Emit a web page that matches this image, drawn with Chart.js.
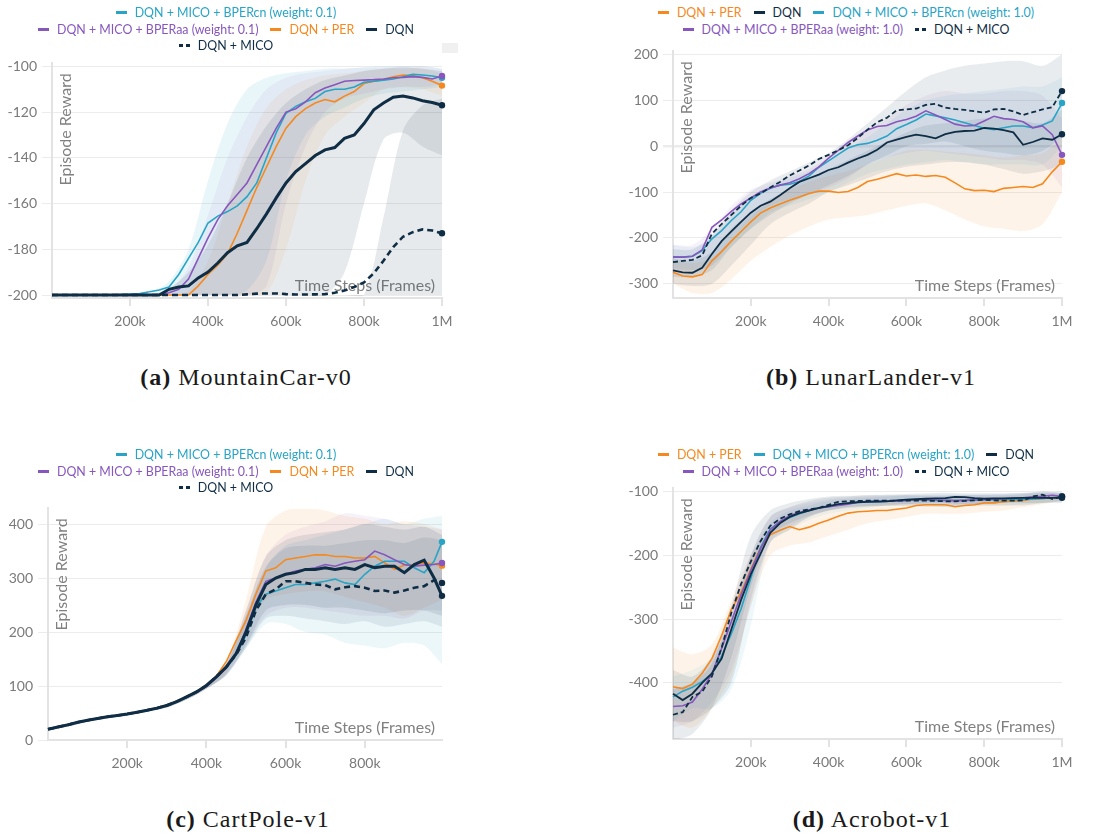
<!DOCTYPE html>
<html>
<head>
<meta charset="utf-8">
<script src="https://cdn.jsdelivr.net/npm/chart.js@4.4.1/dist/chart.umd.min.js"></script>
<style>
  body { margin: 0; background: #fff; }
  #page { position: relative; width: 1104px; height: 835px; overflow: hidden; background: #fff; }
  canvas { position: absolute; }
  .legend { position: absolute; width: 600px; text-align: center; font-family: Lato, sans-serif; font-size: 12.4px; }
  .legend .row { height: 16.5px; line-height: 16.5px; white-space: nowrap; }
  .legend .item { display: inline-block; margin: 0 6px; }
  .legend .item i { display: inline-block; width: 11px; height: 3px; vertical-align: middle; margin-right: 8px; position: relative; top: -1px; }
  .caption { position: absolute; width: 400px; text-align: center; font-family: "Liberation Serif", serif; font-size: 24px; color: #1a1a1a; letter-spacing: 1px; }
  .caption b { font-weight: bold; }
  #wbBox { position: absolute; left: 442px; top: 43px; width: 16px; height: 10px; background: #f0f0f0; }
</style>
</head>
<body>
<div id="page">
  <canvas id="mcChart"></canvas>
  <canvas id="llChart"></canvas>
  <canvas id="cpChart"></canvas>
  <canvas id="abChart"></canvas>
  <div id="wbBox"></div>

  <div class="legend" style="left:-74px; top:5px;">
    <div class="row"><span class="item" style="color:#27a4c6"><i style="background:#27a4c6"></i>DQN + MICO + BPERcn (weight: 0.1)</span></div>
    <div class="row"><span class="item" style="color:#8757bd"><i style="background:#8757bd"></i>DQN + MICO + BPERaa (weight: 0.1)</span><span class="item" style="color:#f5891f"><i style="background:#f5891f"></i>DQN + PER</span><span class="item" style="color:#0f2d44"><i style="background:#0f2d44"></i>DQN</span></div>
    <div class="row"><span class="item" style="color:#0f2d44"><i style="background:linear-gradient(to right,#0f2d44 0 4px,transparent 4px 7px,#0f2d44 7px 11px)"></i>DQN + MICO</span></div>
  </div>
  <div class="legend" style="left:546px; top:5px;">
    <div class="row"><span class="item" style="color:#f5891f"><i style="background:#f5891f"></i>DQN + PER</span><span class="item" style="color:#0f2d44"><i style="background:#0f2d44"></i>DQN</span><span class="item" style="color:#27a4c6"><i style="background:#27a4c6"></i>DQN + MICO + BPERcn (weight: 1.0)</span></div>
    <div class="row"><span class="item" style="color:#8757bd"><i style="background:#8757bd"></i>DQN + MICO + BPERaa (weight: 1.0)</span><span class="item" style="color:#0f2d44"><i style="background:linear-gradient(to right,#0f2d44 0 4px,transparent 4px 7px,#0f2d44 7px 11px)"></i>DQN + MICO</span></div>
  </div>
  <div class="legend" style="left:-74px; top:447px;">
    <div class="row"><span class="item" style="color:#27a4c6"><i style="background:#27a4c6"></i>DQN + MICO + BPERcn (weight: 0.1)</span></div>
    <div class="row"><span class="item" style="color:#8757bd"><i style="background:#8757bd"></i>DQN + MICO + BPERaa (weight: 0.1)</span><span class="item" style="color:#f5891f"><i style="background:#f5891f"></i>DQN + PER</span><span class="item" style="color:#0f2d44"><i style="background:#0f2d44"></i>DQN</span></div>
    <div class="row"><span class="item" style="color:#0f2d44"><i style="background:linear-gradient(to right,#0f2d44 0 4px,transparent 4px 7px,#0f2d44 7px 11px)"></i>DQN + MICO</span></div>
  </div>
  <div class="legend" style="left:546px; top:447px;">
    <div class="row"><span class="item" style="color:#f5891f"><i style="background:#f5891f"></i>DQN + PER</span><span class="item" style="color:#27a4c6"><i style="background:#27a4c6"></i>DQN + MICO + BPERcn (weight: 1.0)</span><span class="item" style="color:#0f2d44"><i style="background:#0f2d44"></i>DQN</span></div>
    <div class="row"><span class="item" style="color:#8757bd"><i style="background:#8757bd"></i>DQN + MICO + BPERaa (weight: 1.0)</span><span class="item" style="color:#0f2d44"><i style="background:linear-gradient(to right,#0f2d44 0 4px,transparent 4px 7px,#0f2d44 7px 11px)"></i>DQN + MICO</span></div>
  </div>

  <div class="caption" style="left:46px; top:364px;"><b>(a)</b> MountainCar-v0</div>
  <div class="caption" style="left:671px; top:364px;"><b>(b)</b> LunarLander-v1</div>
  <div class="caption" style="left:48px; top:806px;"><b>(c)</b> CartPole-v1</div>
  <div class="caption" style="left:672px; top:806px;"><b>(d)</b> Acrobot-v1</div>
</div>

<script>
// x positions in thousands of frames
const STEPS_K = [0,25,50,75,100,125,150,175,200,225,250,275,300,325,350,375,400,425,450,475,500,525,550,575,600,625,650,675,700,725,750,775,800,825,850,875,900,925,950,975,1000];
const STEPS_K_CP = [0,25,50,75,100,125,150,175,200,225,250,275,300,325,350,375,400,425,450,475,500,525,550,575,600,625,650,675,700,725,750,775,800,825,850,875,900,925,950,975,995];
const BAND_K = [0,50,100,150,200,250,300,350,400,450,500,550,600,650,700,750,800,850,900,950,1000];
const BAND_K_CP = [0,50,100,150,200,250,300,350,400,450,500,550,600,650,700,750,800,850,900,950,995];

const X_TICKS_K = [200,400,600,800,1000];
const X_LABELS = ['200k','400k','600k','800k','1M'];
const X_TICKS_K_CP = [200,400,600,800];
const X_LABELS_CP = ['200k','400k','600k','800k'];

const X_TITLE = 'Time Steps (Frames)';
const Y_TITLE = 'Episode Reward';

// (a) MountainCar-v0
const MC_Y_TICKS = [-200,-180,-160,-140,-120,-100];
const MC_Y_LABELS = ['-200','-180','-160','-140','-120','-100'];
const mcCyan = [-200,-200,-200,-200,-200,-200,-200,-199.8,-199.6,-199.3,-198.6,-197.8,-196.5,-191,-184,-177,-168.5,-165.5,-163.5,-161,-157,-151,-140,-129,-120.5,-117.5,-115.5,-114,-111,-110,-110,-109,-107,-106.5,-106,-105.5,-104.5,-103.5,-103.8,-104.2,-105];
const mcPurple = [-200,-200,-200,-200,-200,-200,-200,-200,-200,-200,-200,-199.8,-199,-197.5,-193,-184,-175,-167,-161,-156,-151,-143,-135,-127,-120,-118.5,-115.5,-111.5,-109.5,-108,-106.5,-106.2,-106,-105.8,-105.5,-105,-104.8,-104.5,-104.8,-105.5,-104.2];
const mcOrange = [-200,-200,-200,-200,-200,-200,-200,-200,-200,-200,-200,-200,-200,-200,-200,-196,-191,-187,-182,-173,-163,-153,-144,-135,-127,-122,-118.5,-116,-114.5,-115.5,-113,-111,-107.5,-106.5,-105.8,-104.5,-103.8,-104,-105,-106.5,-108.4];
const mcDqn = [-200,-200,-200,-200,-200,-200,-200,-200,-200,-200,-200,-200,-197.5,-196.5,-196,-192.5,-190,-186,-181.5,-178.5,-177,-171,-164.5,-157.5,-151,-146,-142.5,-139,-136.5,-135.5,-131.5,-130,-125,-119,-116,-113.5,-113,-113.8,-115,-115.8,-117];
const mcMico = [-200,-200,-200,-200,-200,-200,-200,-200,-200,-200,-200,-200,-200,-200,-200,-200,-200,-200,-200,-200,-199.7,-199.4,-199.3,-199.3,-199.6,-199.8,-199.8,-199.7,-199.6,-199,-198,-196.5,-194.5,-190.5,-185,-179,-174.5,-172.5,-171.3,-171.8,-173];
const mcCyanHi = [-200,-200,-200,-200,-200,-199,-194,-180,-150,-125,-110,-105,-103,-102,-101,-101,-100.5,-100,-100,-100,-101];
const mcCyanLo = [-200,-200,-200,-200,-200,-200,-200,-200,-200,-200,-198,-185,-150,-130,-122,-118,-114,-112,-111,-110,-109];
const mcPurpleHi = [-200,-200,-200,-200,-200,-200,-198,-188,-165,-140,-122,-110,-105,-103,-102,-101,-100.5,-100.5,-100,-100,-101];
const mcPurpleLo = [-200,-200,-200,-200,-200,-200,-200,-200,-200,-200,-200,-196,-160,-135,-120,-114,-112,-110,-109,-109,-108];
const mcOrangeHi = [-200,-200,-200,-200,-200,-200,-200,-198,-185,-160,-135,-118,-110,-106,-104,-103,-102,-101,-101,-101,-103];
const mcOrangeLo = [-200,-200,-200,-200,-200,-200,-200,-200,-200,-200,-200,-199,-180,-150,-130,-122,-116,-110,-109,-110,-113];
const mcDqnHi = [-200,-200,-200,-200,-200,-200,-197,-190,-178,-160,-140,-126,-116,-110,-106,-104,-102,-101,-100.5,-101,-102];
const mcDqnLo = [-200,-200,-200,-200,-200,-200,-200,-200,-200,-200,-200,-200,-200,-200,-200,-190,-160,-132,-129,-135,-139];
const mcMicoHi = [-200,-200,-200,-200,-200,-200,-200,-200,-200,-200,-200,-200,-200,-200,-200,-200,-200,-166,-128,-117,-114];
const mcMicoLo = [-200,-200,-200,-200,-200,-200,-200,-200,-200,-200,-200,-200,-200,-200,-200,-200,-200,-200,-200,-200,-200];

// (b) LunarLander-v1
const LL_Y_TICKS = [-300,-200,-100,0,100,200];
const LL_Y_LABELS = ['-300','-200','-100','0','100','200'];
const llOrange = [-275,-283,-285,-280,-250,-230,-207,-186,-165,-146,-135,-126,-118,-111,-103,-98,-98,-101,-99,-90,-77,-72,-66,-60,-65,-63,-66,-64,-68,-80,-93,-97,-96,-99,-92,-90,-88,-90,-82,-56,-34];
const llDqn = [-271,-275,-276,-265,-235,-207,-186,-165,-145,-130,-121,-107,-92,-78,-70,-62,-52,-46,-36,-27,-19,-8,8,14,20,25,22,17,26,31,33,34,40,38,35,30,3,9,17,14,26];
const llCyan = [-241,-242,-240,-228,-202,-184,-162,-143,-118,-103,-92,-85,-83,-77,-65,-46,-32,-18,-4,3,6,13,22,38,47,57,70,66,62,57,51,45,39,36,40,44,44,40,46,55,94];
const llPurple = [-242,-242,-240,-226,-177,-161,-142,-126,-113,-100,-91,-85,-80,-71,-60,-45,-26,-9,8,22,35,43,45,53,58,65,77,68,58,48,44,45,55,65,60,58,53,40,44,25,-19];
const llMico = [-253,-250,-248,-238,-191,-170,-150,-130,-113,-103,-90,-78,-64,-53,-42,-28,-19,-9,2,18,36,52,62,78,80,82,90,92,84,81,79,76,73,80,81,76,68,74,80,85,120];
const llOrangeHi = [-250,-255,-245,-200,-155,-120,-95,-78,-65,-55,-40,-25,-10,-8,-12,-15,-20,-25,-20,-15,20];
const llOrangeLo = [-300,-320,-320,-290,-250,-220,-195,-175,-160,-155,-150,-140,-130,-125,-140,-160,-175,-180,-185,-170,-100];
const llDqnHi = [-245,-250,-230,-180,-145,-115,-95,-70,-50,-30,-10,10,30,45,50,55,60,60,55,50,80];
const llDqnLo = [-300,-305,-300,-260,-215,-170,-145,-125,-100,-85,-70,-55,-45,-40,-35,-35,-40,-50,-60,-55,-40];
const llCyanHi = [-215,-220,-200,-150,-110,-85,-70,-55,-30,-5,20,50,80,100,110,115,120,125,130,130,150];
const llCyanLo = [-265,-270,-260,-220,-180,-145,-130,-115,-100,-80,-60,-50,-40,-35,-30,-35,-40,-40,-40,-40,0];
const llPurpleHi = [-215,-215,-180,-130,-95,-80,-65,-50,-25,5,35,60,90,110,120,115,115,120,120,110,60];
const llPurpleLo = [-270,-270,-260,-200,-160,-130,-115,-105,-90,-70,-40,-25,-15,-10,-15,-20,-25,-30,-30,-40,-90];
const llMicoHi = [-225,-225,-195,-140,-100,-75,-55,-35,-15,15,50,85,120,150,165,175,180,185,185,175,200];
const llMicoLo = [-285,-285,-270,-220,-180,-150,-125,-105,-85,-65,-40,-20,0,5,10,0,-10,-15,-20,-10,20];

// (c) CartPole-v1
const CP_Y_TICKS = [0,100,200,300,400];
const CP_Y_LABELS = ['0','100','200','300','400'];
const cpOrange = [20,24,28,33,36.5,40,43,45.5,48,51.5,55,59.5,65,72,80,89,101,118,145,184,221,270,313,319,334,337,340,343,343,340,340,337,337,340,328,316,324,325,328,326,323];
const cpPurple = [20,24,28,33,36.5,40,43,45.5,48,51.5,55,59,64,71,79,88,99,115,133,158,205,255,294,300,307,313,316,319,325,322,328,331,334,350,343,334,325,322,324,325,328];
const cpCyan = [20,24,28,33,36.5,40,43,45.5,48,51.5,55,59,64,71,79,88,100,116,134,158,195,245,270,276,282,288,288,291,294,298,291,288,307,322,331,331,331,319,310,331,367];
const cpDqn = [20,24,28,33,36.5,40,43,45.5,48,51.5,55,59,64,71,80,89,101,117,135,160,200,250,288,300,307,310,316,316,319,316,319,316,325,319,322,322,310,325,333,300,267];
const cpMico = [20,24,28,33,36.5,40,43,45.5,48,51.5,55,59,64,71,80,89,101,117,135,158,190,240,270,279,294,294,291,288,287,279,283,285,282,276,277,273,277,282,285,296,291];
const cpOrangeHi = [22,31,38,43,50,57,67,82,105,145,260,395,425,430,425,415,410,400,405,400,390];
const cpOrangeLo = [18,25,34,40,46,53,61,75,95,125,200,260,270,275,275,265,255,245,230,245,260];
const cpCyanHi = [22,31,38,43,50,56,66,80,103,140,230,320,360,370,380,390,400,410,400,410,415];
const cpCyanLo = [18,25,34,40,46,52,60,75,95,120,170,215,215,200,195,180,175,170,180,175,140];
const cpPurpleHi = [22,31,38,43,50,56,66,80,103,140,240,340,380,395,405,420,415,410,400,395,390];
const cpPurpleLo = [18,25,34,40,46,52,60,75,95,120,175,230,245,245,240,235,230,230,225,240,240];
const cpDqnHi = [22,31,38,43,50,56,66,80,104,142,240,340,370,380,385,390,400,395,390,395,380];
const cpDqnLo = [18,25,34,40,46,52,60,75,95,122,175,240,250,250,245,245,240,235,240,240,230];
const cpMicoHi = [22,31,38,43,50,56,66,80,103,140,230,320,355,360,360,365,370,370,365,375,370];
const cpMicoLo = [18,25,34,40,46,52,60,75,95,120,170,225,230,225,220,215,220,210,215,220,210];

// (d) Acrobot-v1
const AB_Y_TICKS = [-400,-300,-200,-100];
const AB_Y_LABELS = ['-400','-300','-200','-100'];
const abOrange = [-406,-409,-402,-385,-362,-326,-285,-258,-222,-188,-168,-161,-155,-160,-156,-150,-145,-139,-134,-132,-131,-130,-130,-128,-126,-122,-121,-121,-121,-124,-122,-121,-118,-118,-116,-115,-114,-112,-111,-110,-108];
const abCyan = [-422,-413,-407,-398,-386,-358,-323,-284,-236,-188,-159,-148,-141,-135,-130,-126,-124,-121,-119,-117,-116,-116,-115.5,-115,-114,-113,-113,-114,-114,-114.5,-114,-113.5,-113,-113,-113,-113,-112.5,-112,-111,-110,-108];
const abPurple = [-437,-436,-430,-410,-386,-346,-304,-262,-224,-190,-160,-147,-138,-133,-129,-126,-124,-122,-120,-117,-115.6,-115.6,-115.5,-115,-114,-113,-113,-113.5,-114,-114.5,-114,-113.5,-113,-112,-111.5,-110.5,-110,-108.5,-107.5,-106,-108];
const abDqn = [-417,-427,-417,-400,-385,-362,-316,-270,-230,-198,-165,-150,-140,-134,-130,-126,-123,-120,-118.5,-117,-116.5,-116,-115.5,-114,-113,-112,-111.5,-111,-110.4,-108.5,-109,-110.5,-111.4,-111,-110.8,-110.5,-110.3,-110,-110,-110,-110];
const abMico = [-450,-446,-422,-414,-390,-345,-290,-245,-210,-178,-154,-143,-136,-131,-128,-126,-121,-116.5,-115.5,-115,-114.5,-114.5,-114.5,-114.5,-114.5,-114.5,-114.5,-115,-115.5,-115.5,-115,-114,-113,-114,-114.5,-114.5,-114,-108,-105,-112,-108];
const abOrangeHi = [-345,-355,-340,-270,-200,-160,-135,-128,-125,-122,-120,-117,-113,-110,-110,-110,-110,-108,-107,-105,-103];
const abOrangeLo = [-460,-470,-440,-390,-280,-200,-185,-180,-170,-160,-150,-145,-140,-135,-135,-135,-132,-130,-125,-120,-115];
const abCyanHi = [-390,-380,-360,-290,-205,-150,-130,-122,-115,-112,-110,-108,-106,-105,-105,-105,-105,-104,-103,-102,-100];
const abCyanLo = [-460,-440,-440,-410,-310,-180,-160,-145,-135,-130,-126,-122,-120,-122,-124,-122,-122,-122,-120,-118,-116];
const abPurpleHi = [-410,-400,-360,-280,-200,-140,-125,-118,-113,-110,-108,-107,-106,-106,-106,-106,-105,-104,-103,-100,-102];
const abPurpleLo = [-470,-460,-430,-380,-280,-180,-155,-140,-130,-124,-122,-120,-120,-121,-122,-121,-120,-118,-116,-113,-114];
const abDqnHi = [-380,-390,-360,-300,-200,-140,-125,-115,-110,-108,-106,-105,-104,-103,-102,-103,-103,-103,-102,-102,-103];
const abDqnLo = [-460,-460,-440,-400,-270,-180,-160,-140,-130,-126,-124,-122,-120,-118,-118,-120,-119,-118,-118,-118,-118];
const abMicoHi = [-410,-400,-370,-280,-170,-130,-118,-112,-108,-107,-106,-106,-106,-107,-107,-106,-106,-106,-104,-100,-102];
const abMicoLo = [-490,-480,-440,-360,-250,-170,-150,-138,-130,-125,-123,-123,-123,-124,-124,-123,-122,-122,-122,-118,-115];

const CYAN = '#27a4c6';
const PURPLE = '#8757bd';
const ORANGE = '#f5891f';
const NAVY = '#0f2d44';

function rgba(hex, a) {
  const n = parseInt(hex.slice(1), 16);
  return `rgba(${(n >> 16) & 255},${(n >> 8) & 255},${n & 255},${a})`;
}

function pts(xs, ys) {
  return ys.map((y, i) => ({ x: xs[i] * 1000, y: y }));
}

// draws the in-plot axis titles underneath the shaded bands
const axisTitles = {
  id: 'axisTitles',
  beforeDatasetsDraw(chart) {
    const a = chart.chartArea;
    const ctx = chart.ctx;
    ctx.save();
    ctx.fillStyle = '#808080';
    ctx.font = '16px Lato';
    ctx.textBaseline = 'middle';
    ctx.textAlign = 'right';
    ctx.fillText(X_TITLE, a.right - 7, a.bottom - 12);
    ctx.translate(a.left + 14, a.top + 10);
    ctx.rotate(-Math.PI / 2);
    ctx.fillText(Y_TITLE, 0, 0);
    ctx.restore();
  }
};

function buildPanel(p) {
  const canvas = document.getElementById(p.id);
  if (!canvas) {
    console.error('Canvas not found: ' + p.id);
    return null;
  }
  const [L, T, R, B] = p.area;
  const W = R - L + 52 + 28;
  const H = B - T + 12 + 52;
  canvas.width = W;
  canvas.height = H;
  canvas.style.left = (L - 52) + 'px';
  canvas.style.top = (T - 12) + 'px';
  canvas.style.width = W + 'px';
  canvas.style.height = H + 'px';

  const lines = [];
  const bands = [];
  p.series.forEach(s => {
    lines.push({
      data: pts(p.steps, s.mean),
      borderColor: s.color,
      backgroundColor: s.color,
      borderWidth: s.width,
      borderDash: s.dash || [],
      pointRadius: ctx => ctx.dataIndex === s.mean.length - 1 ? 3.2 : 0,
      pointBackgroundColor: s.color,
      pointBorderWidth: 0,
      tension: 0,
      fill: false,
      clip: false
    });
    bands.push({
      data: pts(p.bandSteps, s.hi),
      borderWidth: 0,
      pointRadius: 0,
      backgroundColor: rgba(s.color, s.alpha),
      fill: '+1',
      tension: 0.3
    });
    bands.push({
      data: pts(p.bandSteps, s.lo),
      borderWidth: 0,
      pointRadius: 0,
      fill: false,
      tension: 0.3
    });
  });

  const ctx = canvas.getContext('2d');
  return new Chart(ctx, {
    type: 'line',
    data: { datasets: lines.concat(bands) },
    options: {
      responsive: false,
      animation: false,
      events: [],
      layout: { padding: { left: 0, top: 12, right: 28, bottom: 12 } },
      plugins: {
        legend: { display: false },
        tooltip: { enabled: false }
      },
      scales: {
        x: {
          type: 'linear',
          min: 0,
          max: p.xMax * 1000,
          afterBuildTicks: s => { s.ticks = p.xTicks.map(v => ({ value: v * 1000 })); },
          afterFit: s => { s.height = 40; },
          grid: { drawOnChartArea: false, drawTicks: true, tickLength: 8, color: '#e3e3e3', lineWidth: 2 },
          border: { color: '#e3e3e3', width: 2 },
          ticks: {
            color: '#7a7a7a',
            font: { family: 'Lato', size: 14 },
            padding: 7,
            maxRotation: 0,
            autoSkip: false,
            callback: v => p.xLabels[p.xTicks.indexOf(v / 1000)]
          }
        },
        y: {
          min: p.yMin,
          max: p.yMax,
          afterBuildTicks: s => { s.ticks = p.yTicks.map(v => ({ value: v })); },
          afterFit: s => { s.width = 52; },
          grid: {
            color: '#ececec',
            lineWidth: c => (c.tick && c.tick.value === 0 && p.zeroLine) ? 2.5 : 1,
            tickLength: 10
          },
          border: { color: '#e3e3e3', width: 2 },
          ticks: {
            color: '#7a7a7a',
            font: { family: 'Lato', size: 14 },
            padding: 5,
            autoSkip: false,
            callback: v => p.yLabels[p.yTicks.indexOf(v)]
          }
        }
      }
    },
    plugins: [axisTitles]
  });
}

const panels = [
  {
    id: 'mcChart', area: [52, 62, 442, 298],
    steps: STEPS_K, bandSteps: BAND_K, xMax: 1000, xTicks: X_TICKS_K, xLabels: X_LABELS,
    yMin: -201.3, yMax: -98.7, yTicks: MC_Y_TICKS, yLabels: MC_Y_LABELS,
    series: [
      { color: NAVY, mean: mcDqn, hi: mcDqnHi, lo: mcDqnLo, width: 3, alpha: 0.1 },
      { color: NAVY, mean: mcMico, hi: mcMicoHi, lo: mcMicoLo, width: 2.6, dash: [6, 4], alpha: 0.1 },
      { color: PURPLE, mean: mcPurple, hi: mcPurpleHi, lo: mcPurpleLo, width: 1.6, alpha: 0.08 },
      { color: CYAN, mean: mcCyan, hi: mcCyanHi, lo: mcCyanLo, width: 1.6, alpha: 0.1 },
      { color: ORANGE, mean: mcOrange, hi: mcOrangeHi, lo: mcOrangeLo, width: 1.6, alpha: 0.08 }
    ]
  },
  {
    id: 'llChart', area: [673, 50, 1062, 298], zeroLine: true,
    steps: STEPS_K, bandSteps: BAND_K, xMax: 1000, xTicks: X_TICKS_K, xLabels: X_LABELS,
    yMin: -331, yMax: 206.5, yTicks: LL_Y_TICKS, yLabels: LL_Y_LABELS,
    series: [
      { color: NAVY, mean: llDqn, hi: llDqnHi, lo: llDqnLo, width: 1.8, alpha: 0.09 },
      { color: NAVY, mean: llMico, hi: llMicoHi, lo: llMicoLo, width: 1.8, dash: [5, 3], alpha: 0.09 },
      { color: PURPLE, mean: llPurple, hi: llPurpleHi, lo: llPurpleLo, width: 1.6, alpha: 0.08 },
      { color: CYAN, mean: llCyan, hi: llCyanHi, lo: llCyanLo, width: 1.6, alpha: 0.08 },
      { color: ORANGE, mean: llOrange, hi: llOrangeHi, lo: llOrangeLo, width: 1.6, alpha: 0.1 }
    ]
  },
  {
    id: 'cpChart', area: [48, 507, 442, 740],
    steps: STEPS_K_CP, bandSteps: BAND_K_CP, xMax: 995, xTicks: X_TICKS_K_CP, xLabels: X_LABELS_CP,
    yMin: 0, yMax: 429, yTicks: CP_Y_TICKS, yLabels: CP_Y_LABELS,
    series: [
      { color: NAVY, mean: cpDqn, hi: cpDqnHi, lo: cpDqnLo, width: 3, alpha: 0.1 },
      { color: NAVY, mean: cpMico, hi: cpMicoHi, lo: cpMicoLo, width: 2.6, dash: [6, 4], alpha: 0.09 },
      { color: PURPLE, mean: cpPurple, hi: cpPurpleHi, lo: cpPurpleLo, width: 1.6, alpha: 0.08 },
      { color: CYAN, mean: cpCyan, hi: cpCyanHi, lo: cpCyanLo, width: 1.6, alpha: 0.09 },
      { color: ORANGE, mean: cpOrange, hi: cpOrangeHi, lo: cpOrangeLo, width: 1.6, alpha: 0.1 }
    ]
  },
  {
    id: 'abChart', area: [673, 487, 1062, 739],
    steps: STEPS_K, bandSteps: BAND_K, xMax: 1000, xTicks: X_TICKS_K, xLabels: X_LABELS,
    yMin: -488, yMax: -95.3, yTicks: AB_Y_TICKS, yLabels: AB_Y_LABELS,
    series: [
      { color: NAVY, mean: abDqn, hi: abDqnHi, lo: abDqnLo, width: 1.8, alpha: 0.09 },
      { color: NAVY, mean: abMico, hi: abMicoHi, lo: abMicoLo, width: 1.8, dash: [5, 3], alpha: 0.09 },
      { color: PURPLE, mean: abPurple, hi: abPurpleHi, lo: abPurpleLo, width: 1.6, alpha: 0.08 },
      { color: CYAN, mean: abCyan, hi: abCyanHi, lo: abCyanLo, width: 1.6, alpha: 0.08 },
      { color: ORANGE, mean: abOrange, hi: abOrangeHi, lo: abOrangeLo, width: 1.6, alpha: 0.1 }
    ]
  }
];

const charts = panels.map(buildPanel);
</script>
</body>
</html>
